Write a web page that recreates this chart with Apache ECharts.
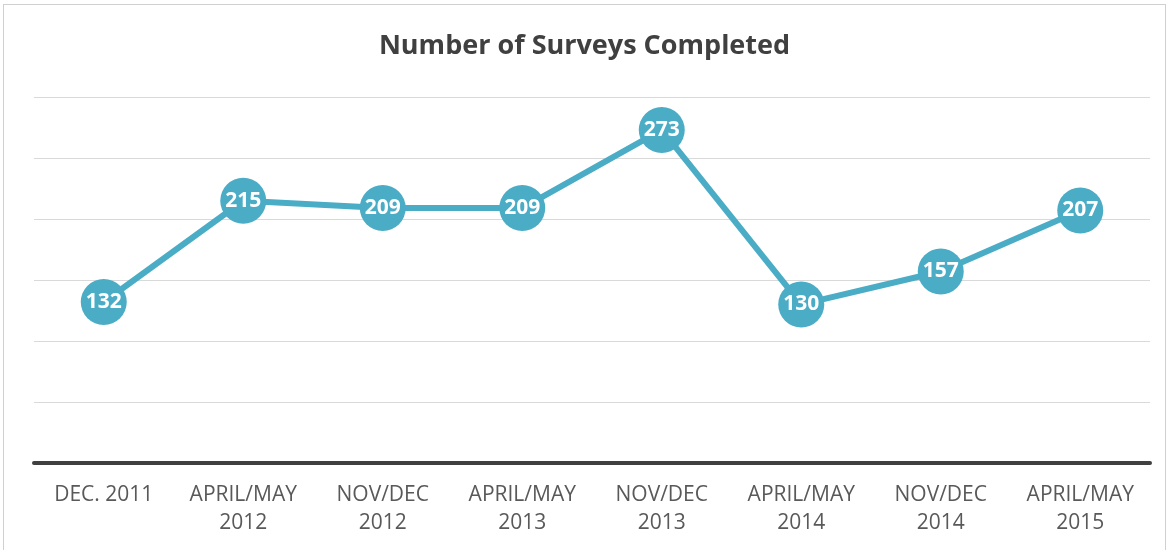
<!DOCTYPE html>
<html>
<head>
<meta charset="utf-8">
<script src="https://cdn.jsdelivr.net/npm/echarts@6/dist/echarts.min.js"></script>
<style>
  html, body { margin: 0; padding: 0; background: #fff; }
  #frame { position: absolute; left: 3px; top: 4px; width: 1163px; height: 560px; border: 1px solid #d0d0d0; box-sizing: border-box; }
  #chart { position: absolute; left: 0; top: 0; width: 1169px; height: 550px; }
</style>
</head>
<body>
<div id="frame"></div>
<div id="chart"></div>
<script>
const categories = [
  'DEC. 2011',
  'APRIL/MAY\n2012',
  'NOV/DEC\n2012',
  'APRIL/MAY\n2013',
  'NOV/DEC\n2013',
  'APRIL/MAY\n2014',
  'NOV/DEC\n2014',
  'APRIL/MAY\n2015'
]
const surveys = [132, 215, 209, 209, 273, 130, 157, 207]

const lineColor = '#4bacc6'

const chart = echarts.init(document.getElementById('chart'))
chart.setOption({
  animation: false,
  title: {
    text: 'Number of Surveys Completed',
    left: 'center',
    top: 28,
    textStyle: { fontFamily: 'Open Sans', fontWeight: 'bold', fontSize: 27, color: '#404040' }
  },
  grid: { left: 34, right: 19, top: 97, bottom: 87 },
  xAxis: {
    type: 'category',
    data: categories,
    boundaryGap: true,
    axisLine: { lineStyle: { color: '#404040', width: 4 } },
    axisTick: { show: false },
    axisLabel: {
      color: '#595959',
      fontFamily: 'Open Sans',
      fontSize: 21,
      lineHeight: 28,
      margin: 18,
      interval: 0
    }
  },
  yAxis: {
    type: 'value',
    min: 0,
    max: 300,
    interval: 50,
    axisLabel: { show: false },
    axisLine: { show: false },
    axisTick: { show: false },
    splitLine: { lineStyle: { color: '#d9d9d9', width: 1 } }
  },
  series: [{
    type: 'line',
    data: surveys,
    symbol: 'circle',
    symbolSize: 46,
    lineStyle: { color: lineColor, width: 6 },
    itemStyle: { color: lineColor },
    label: {
      show: true,
      position: 'inside',
      color: '#fff',
      fontFamily: 'Open Sans',
      fontWeight: 'bold',
      fontSize: 21
    }
  }]
})
</script>
</body>
</html>
